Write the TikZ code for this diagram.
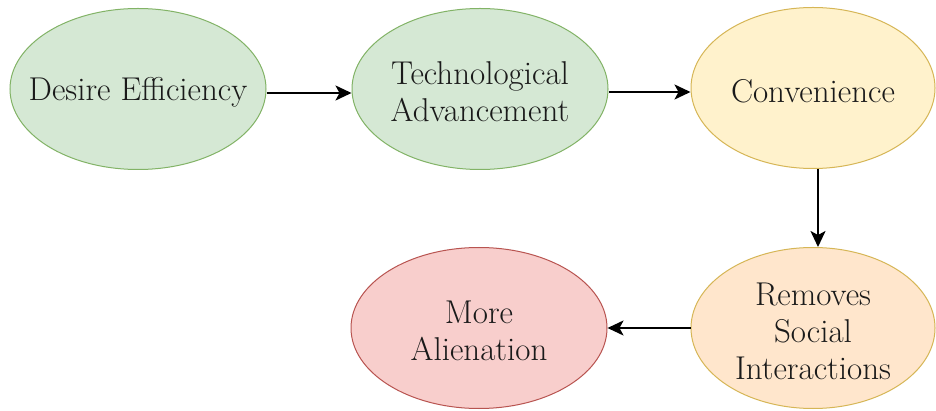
\documentclass[tikz,border=0pt]{standalone}
\usetikzlibrary{shapes.geometric,arrows.meta}
\definecolor{gfill}{HTML}{D5E8D4}\definecolor{gdraw}{HTML}{82B366}
\definecolor{yfill}{HTML}{FFF2CC}\definecolor{ydraw}{HTML}{D6B656}
\definecolor{ofill}{HTML}{FFE6CC}\definecolor{odraw}{HTML}{D6B656}
\definecolor{rfill}{HTML}{F8CECC}\definecolor{rdraw}{HTML}{B85450}
\definecolor{txt}{HTML}{1A1A1A}
\begin{document}
\begin{tikzpicture}[x=1pt,y=-1pt,
  blob/.style={ellipse, minimum width=256pt, minimum height=161pt, inner sep=0pt, line width=1pt},
  lbl/.style={align=center, inner sep=0pt, yshift=-3pt, font=\rmfamily\fontsize{33}{37}\selectfont, text=txt},
  greenblob/.style={blob, fill=gfill, draw=gdraw},
  yellowblob/.style={blob, fill=yfill, draw=ydraw},
  orangeblob/.style={blob, fill=ofill, draw=odraw},
  redblob/.style={blob, fill=rfill, draw=rdraw},
  conn/.style={line width=2pt, -{Stealth[length=16pt,width=15pt,inset=4pt]}, black}]
\useasboundingbox (0,0) rectangle (936,411);
\fill[white] (0,0) rectangle (936,411);
\node[greenblob] (de) at (138,89) {};
\node[greenblob] (ta) at (480,89) {};
\node[yellowblob, minimum width=244pt] (cv) at (813,88) {};
\node[orangeblob, minimum width=244pt] (rs) at (813,328) {};
\node[redblob] (ma) at (479,328) {};
\node[lbl] (tde) at (de) {Desire Efficiency};
\node[lbl] (tta) at (ta) {Technological\\Advancement};
\node[lbl] (tcv) at (cv) {Convenience};
\node[lbl] (trs) at (rs) {Removes\\Social\\Interactions};
\node[lbl] (tma) at (ma) {More\\Alienation};
\draw[conn] (de.east |- 0,93) -- (ta.west |- 0,93);
\draw[conn] (ta.east |- 0,92) -- (cv.west |- 0,92);
\draw[conn] (cv.south -| 818,0) -- (rs.north -| 818,0);
\draw[conn] (rs.west) -- (ma.east);
\end{tikzpicture}
\end{document}
